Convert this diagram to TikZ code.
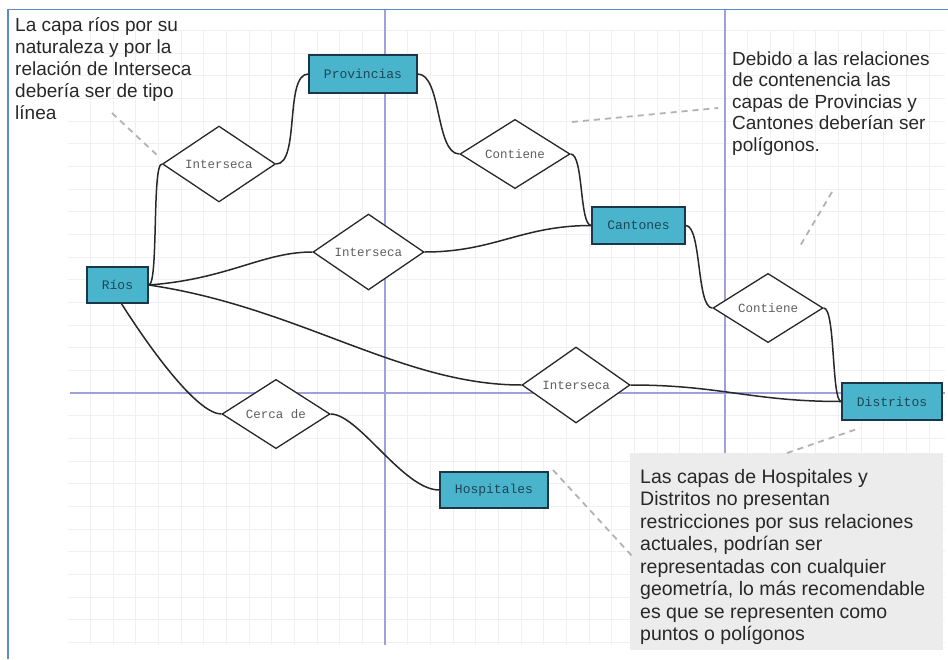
\documentclass[tikz,border=0pt]{standalone}
\usepackage{fontspec}
\setmainfont{Liberation Sans}
\newfontfamily\monof{Liberation Mono}
\usetikzlibrary{shapes.geometric}
\definecolor{boxfill}{RGB}{74,180,205}
\definecolor{boxline}{RGB}{25,55,70}
\definecolor{boxtext}{RGB}{30,70,85}
\definecolor{relgray}{RGB}{95,95,95}
\definecolor{gridc}{RGB}{240,240,244}
\definecolor{axisc}{RGB}{160,160,220}
\definecolor{framec}{RGB}{90,140,205}
\definecolor{notefill}{RGB}{236,236,236}
\definecolor{edgec}{RGB}{40,40,40}
\definecolor{dashc}{RGB}{178,178,178}
\definecolor{notetext}{RGB}{40,40,40}
\begin{document}
\begin{tikzpicture}[x=1pt,y=-1pt,
  entity/.style={draw=boxline, line width=1.4pt, fill=boxfill, inner sep=0pt,
    font=\monof\fontsize{13}{13}\selectfont, text=boxtext},
  rel/.style={diamond, draw=edgec, line width=1.3pt, fill=white, inner sep=0pt,
    font=\monof\fontsize{12.5}{12.5}\selectfont, text=relgray},
  conn/.style={draw=edgec, line width=1.5pt},
  pointer/.style={draw=dashc, line width=1.8pt, dash pattern=on 6pt off 5pt},
  note/.style={anchor=north west, align=left, inner sep=0pt, text=notetext},
  gridline/.style={draw=gridc, line width=0.7pt},
  axisline/.style={draw=axisc, line width=1.1pt}
]
\useasboundingbox (0,0) rectangle (948,659);
\fill[white] (0,0) rectangle (948,659);
% grid
\foreach \k in {-13,...,24} {\draw[gridline] (385+\k*22.667,30) -- (385+\k*22.667,645);}
\foreach \k in {-16,...,11} {\draw[gridline] (68,393+\k*22.667) -- (945,393+\k*22.667);}
\draw[axisline] (385,10) -- (385,645);
\draw[axisline] (725,10) -- (725,645);
\draw[axisline] (70,393) -- (945,393);
% frame
\draw[draw=framec, line width=1.2pt] (8,659) -- (8,9.5) -- (948,9.5);

% entities
\node[entity, minimum width=61, minimum height=36] (rios) at (117.5,285) {Ríos};
\node[entity, minimum width=108, minimum height=38] (prov) at (363,74) {Provincias};
\node[entity, minimum width=93, minimum height=37] (cant) at (638.5,225.5) {Cantones};
\node[entity, minimum width=100, minimum height=37] (dist) at (892,401.5) {Distritos};
\node[entity, minimum width=108, minimum height=36] (hosp) at (494,490) {Hospitales};

% relations
\node[rel, minimum width=113, minimum height=72] (i1) at (219,164) {Interseca};
\node[rel, minimum width=110, minimum height=68] (c1) at (515,154) {Contiene};
\node[rel, minimum width=111, minimum height=70] (i2) at (368.5,252) {Interseca};
\node[rel, minimum width=110, minimum height=64] (c2) at (768,308) {Contiene};
\node[rel, minimum width=108, minimum height=68] (i3) at (576,385) {Interseca};
\node[rel, minimum width=108, minimum height=66] (cd) at (276,414) {Cerca de};

% connectors
\draw[conn] (rios.east) .. controls +(10,0) and +(-10,0) .. (i1.west);
\draw[conn] (i1.east) .. controls +(24,0) and +(-24,0) .. (prov.west);
\draw[conn] (prov.east) .. controls +(24,0) and +(-24,0) .. (c1.west);
\draw[conn] (c1.east) .. controls +(13,0) and +(-12,0) .. (cant.west);
\draw[conn] (rios.east) .. controls +(80,-6) and +(-50,0) .. (i2.west);
\draw[conn] (i2.east) .. controls +(70,0) and +(-70,0) .. (cant.west);
\draw[conn] (cant.east) .. controls +(16,0) and +(-16,0) .. (c2.west);
\draw[conn] (c2.east) .. controls +(12,0) and +(-10,0) .. (dist.west);
\draw[conn] (rios.east) .. controls +(150,22) and +(-120,0) .. (i3.west);
\draw[conn] (i3.east) .. controls +(90,0) and +(-90,0) .. (dist.west);
\draw[conn] ([xshift=4pt]rios.south) .. controls +(35,55) and +(-22,0) .. (cd.west);
\draw[conn] (cd.east) .. controls +(28,0) and +(-36,0) .. (hosp.west);

% notes
\node[note, font=\fontsize{19}{22}\selectfont] (n1) at (15,17)
  {La capa ríos por su\\naturaleza y por la\\relación de Interseca\\debería ser de tipo\\línea};
\node[note, font=\fontsize{19}{21.5}\selectfont] (n2) at (732,51.5)
  {Debido a las relaciones\\de contenencia las\\capas de Provincias y\\Cantones deberían ser\\polígonos.};
\fill[notefill] (630,453) rectangle (943,650);
\node[note, font=\fontsize{19.5}{22.5}\selectfont] (n3) at (640,469)
  {Las capas de Hospitales y\\Distritos no presentan\\restricciones por sus relaciones\\actuales, podrían ser\\representadas con cualquier\\geometría, lo más recomendable\\es que se representen como\\puntos o polígonos};

% pointers
\coordinate (p1a) at (112,113); \coordinate (p1b) at (158,156);
\coordinate (p2a) at (572,122); \coordinate (p2b) at (718,108);
\coordinate (p3a) at (832,192); \coordinate (p3b) at (800,246);
\coordinate (p4a) at (787,453); \coordinate (p4b) at (860,428);
\coordinate (p5a) at (553,470); \coordinate (p5b) at (633,557);
\draw[pointer] (p1a) -- (p1b);
\draw[pointer] (p2a) -- (p2b);
\draw[pointer] (p3a) -- (p3b);
\draw[pointer] (p4a) -- (p4b);
\draw[pointer] (p5a) -- (p5b);
\end{tikzpicture}
\end{document}
